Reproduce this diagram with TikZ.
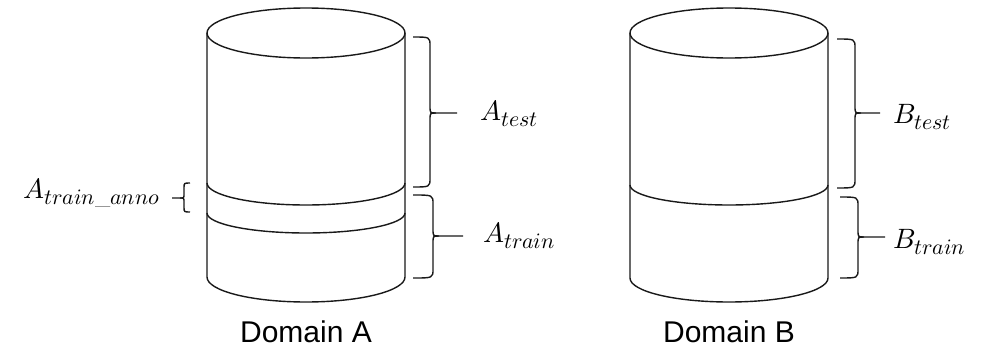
\documentclass[tikz,border=0pt]{standalone}
\usepackage{fontspec}
\usepackage{unicode-math}
\setmathfont{Latin Modern Math}
\DeclareMathSizes{28}{28}{22}{17}
\newfontfamily\labelsans{Liberation Sans}
\tikzset{
  cyl/.style={line width=1.4pt, draw=black!90},
  brc/.style={line width=1.4pt, draw=black!90},
  mlabel/.style={inner sep=0pt, anchor=base west, font=\fontsize{28}{30}\selectfont},
  dlabel/.style={inner sep=0pt, anchor=base, font=\labelsans\fontsize{30}{34}\selectfont}
}
% brace pointing right: #1 x ends, #2 x vertical, #3 x tip, #4 y top, #5 y bottom, #6 y middle (all in px, y downwards)
\newcommand{\mybrace}[6]{%
  \draw[brc] (#1,-#4) .. controls (#2,-#4) .. (#2,{-#4-9}) -- (#2,{-#6+7})
     .. controls (#2,-#6) .. ({#2+6},-#6) -- (#3,-#6);
  \draw[brc] ({#2+6},-#6) .. controls (#2,-#6) .. (#2,{-#6-7}) -- (#2,{-#5+9})
     .. controls (#2,-#5) .. (#1,-#5);}
\begin{document}
\begin{tikzpicture}[x=1pt,y=1pt]
\useasboundingbox (0,0) rectangle (988,-348);
% Cylinder A
\draw[cyl] (306,-33) ellipse [x radius=99, y radius=25];
\draw[cyl] (207,-33) -- (207,-277) arc[start angle=180, end angle=360, x radius=99, y radius=25] -- (405,-33);
\draw[cyl] (207,-183) arc[start angle=180, end angle=360, x radius=99, y radius=22];
\draw[cyl] (207,-213) arc[start angle=180, end angle=360, x radius=99, y radius=20];
% Cylinder B
\draw[cyl] (729,-33) ellipse [x radius=99, y radius=25];
\draw[cyl] (630,-33) -- (630,-278) arc[start angle=180, end angle=360, x radius=99, y radius=24] -- (828,-33);
\draw[cyl] (630,-185) arc[start angle=180, end angle=360, x radius=99, y radius=20];
% braces
\mybrace{413}{430}{457}{37}{187}{113}
\mybrace{413}{433}{463}{195}{278}{236}
\mybrace{837}{855}{880}{39}{188}{113}
\mybrace{840}{858}{885}{197}{278}{237}
% small left-pointing brace
\draw[brc] (190,-183) .. controls (184,-183) .. (184,-188) -- (184,-194)
   .. controls (184,-198) .. (180,-198) -- (172,-198);
\draw[brc] (180,-198) .. controls (184,-198) .. (184,-202) -- (184,-207)
   .. controls (184,-212) .. (190,-212);
% labels
\node[mlabel] (atest) at (480,-120) {$A_{test}$};
\node[mlabel] (atrain) at (483,-242) {$A_{train}$};
\node[mlabel, anchor=base east] (aanno) at (160,-198) {$A_{train\_anno}$};
\node[mlabel] (btest) at (893,-123) {$B_{test}$};
\node[mlabel] (btrain) at (893,-248) {$B_{train}$};
\node[dlabel] (doma) at (306,-342) {Domain A};
\node[dlabel] (domb) at (729,-342) {Domain B};
\end{tikzpicture}
\end{document}
